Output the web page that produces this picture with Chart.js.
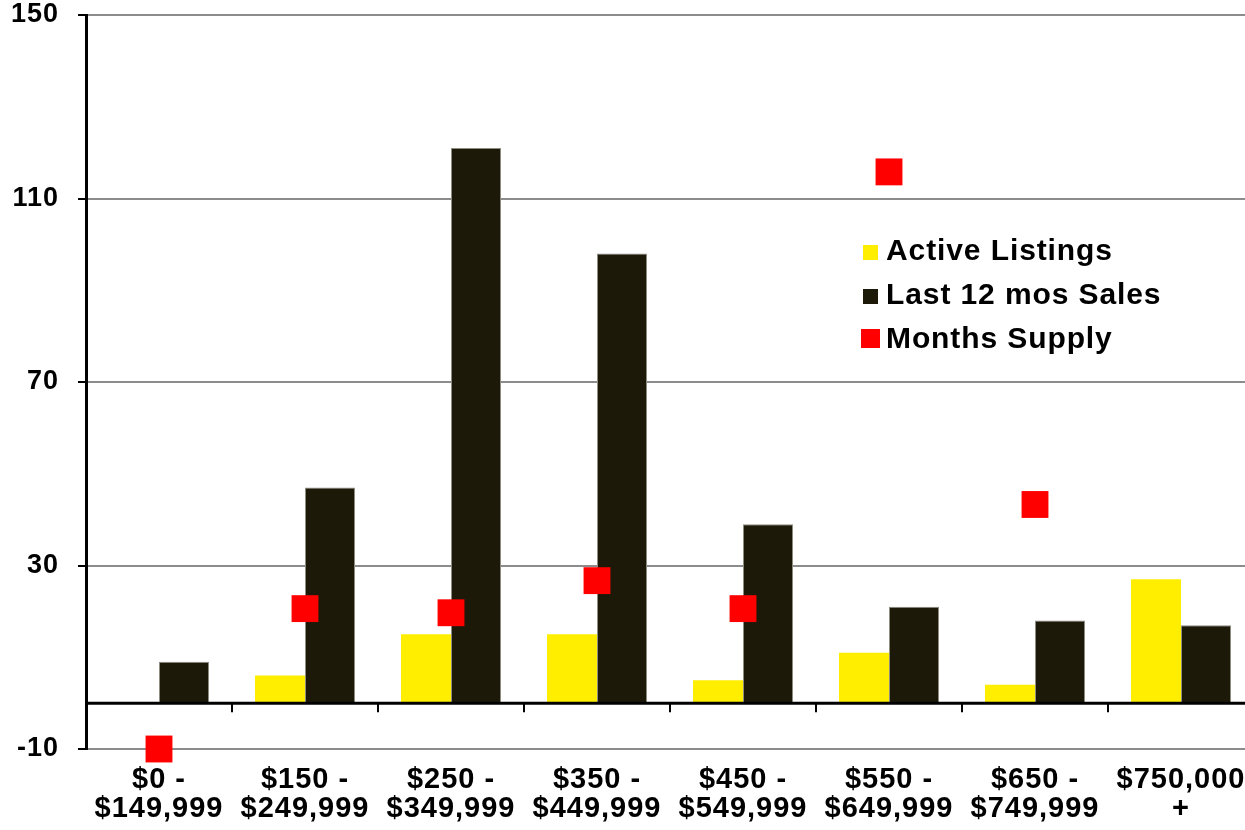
<!DOCTYPE html>
<html>
<head>
<meta charset="utf-8">
<script src="https://cdn.jsdelivr.net/npm/chart.js@4.4.1/dist/chart.umd.min.js"></script>
<style>
  html, body { margin: 0; padding: 0; background: #fff; overflow: hidden; }
  #wrap { width: 1254px; height: 830px; }
</style>
</head>
<body>
<div id="wrap"><canvas id="myChart" width="1254" height="830"></canvas></div>
<script>
var categories = [
  ['$0 -', '$149,999'],
  ['$150 -', '$249,999'],
  ['$250 -', '$349,999'],
  ['$350 -', '$449,999'],
  ['$450 -', '$549,999'],
  ['$550 -', '$649,999'],
  ['$650 -', '$749,999'],
  ['$750,000', '+']
];
var activeListings = [0, 6, 15, 15, 5, 11, 4, 27];
var lastYearSales = [9, 47, 121, 98, 39, 21, 18, 17];
var monthsSupply = [-10, 20.6, 19.7, 26.7, 20.6, 115.8, 43.3, null];
var yTicks = [-10, 30, 70, 110, 150];

var FONT = "'Liberation Sans', Arial, Helvetica, sans-serif";

// zero line + little category ticks under it
var zeroLine = {
  id: 'zeroLine',
  beforeDraw: function (chart) {
    chart.ctx.letterSpacing = '1px';
  },
  afterDatasetsDraw: function (chart) {
    var ctx = chart.ctx, x = chart.scales.x, y = chart.scales.y;
    var y0 = y.getPixelForValue(0);
    ctx.save();
    ctx.strokeStyle = '#000';
    ctx.lineWidth = 2;
    for (var i = 1; i < categories.length; i++) {
      var bx = (x.getPixelForValue(i - 1) + x.getPixelForValue(i)) / 2;
      ctx.beginPath();
      ctx.moveTo(bx, y0);
      ctx.lineTo(bx, y0 + 9);
      ctx.stroke();
    }
    ctx.lineWidth = 3;
    ctx.beginPath();
    ctx.moveTo(chart.chartArea.left, y0);
    ctx.lineTo(chart.chartArea.right, y0);
    ctx.stroke();
    ctx.restore();
  }
};

// legend inside the plot
var boxLegend = {
  id: 'boxLegend',
  afterDraw: function (chart) {
    var ctx = chart.ctx;
    var left = chart.chartArea.left + 777;
    var top = chart.chartArea.top + 245;
    var items = [chart.data.datasets[1], chart.data.datasets[2], chart.data.datasets[0]];
    var sizes = [15, 15, 19];
    ctx.save();
    ctx.font = 'bold 30px ' + FONT;
    ctx.letterSpacing = '0.9px';
    ctx.textBaseline = 'alphabetic';
    ctx.textAlign = 'left';
    items.forEach(function (ds, i) {
      var base = top + i * 44;
      var s = sizes[i];
      ctx.fillStyle = ds.legendColor;
      ctx.fillRect(left + 7.5 - s / 2, base - s, s, s);
      ctx.fillStyle = '#000';
      ctx.fillText(ds.label, left + 23, base);
    });
    ctx.restore();
  }
};

new Chart(document.getElementById('myChart').getContext('2d'), {
  type: 'bar',
  data: {
    labels: categories,
    datasets: [{
      type: 'line',
      label: 'Months Supply',
      data: monthsSupply,
      showLine: false,
      pointStyle: 'rect',
      pointRadius: 19,
      pointHoverRadius: 19,
      pointBackgroundColor: '#ff0000',
      pointBorderWidth: 0,
      legendColor: '#ff0000',
      clip: false,
      order: 0
    }, {
      label: 'Active Listings',
      data: activeListings,
      backgroundColor: '#ffee00',
      legendColor: '#ffee00',
      borderWidth: 0,
      categoryPercentage: 0.685,
      barPercentage: 1.0,
      order: 1
    }, {
      label: 'Last 12 mos Sales',
      data: lastYearSales,
      backgroundColor: '#1c1908',
      legendColor: '#1c1908',
      borderColor: '#8f8c82',
      borderWidth: 1,
      categoryPercentage: 0.685,
      barPercentage: 1.0,
      order: 2
    }]
  },
  options: {
    responsive: false,
    animation: false,
    devicePixelRatio: 1,
    layout: { autoPadding: false, padding: { top: 15, left: 0, right: 0, bottom: 0 } },
    plugins: {
      legend: { display: false },
      tooltip: { enabled: false },
      title: { display: false }
    },
    scales: {
      x: {
        grid: { display: false, drawTicks: false },
        border: { display: false },
        ticks: {
          color: '#000',
          padding: 16,
          maxRotation: 0,
          autoSkip: false,
          font: { family: FONT, size: 29, weight: 'bold', lineHeight: 1.02 }
        },
        afterFit: function (s) {
          s.height = 81;
          s.paddingLeft = 0;
          s.paddingRight = 0;
        }
      },
      y: {
        min: -10,
        max: 150,
        afterBuildTicks: function (s) {
          s.ticks = yTicks.map(function (v) { return { value: v }; });
        },
        grid: {
          color: '#8c8c8c',
          lineWidth: 2,
          tickColor: '#000',
          tickLength: 8
        },
        border: { display: true, color: '#000', width: 3 },
        ticks: {
          color: '#000',
          padding: 19,
          font: { family: FONT, size: 27, weight: 'bold', lineHeight: 1 }
        },
        afterFit: function (s) {
          s.width = 86;
          s.paddingTop = 0;
          s.paddingBottom = 0;
        }
      }
    }
  },
  plugins: [zeroLine, boxLegend]
});
</script>
</body>
</html>
